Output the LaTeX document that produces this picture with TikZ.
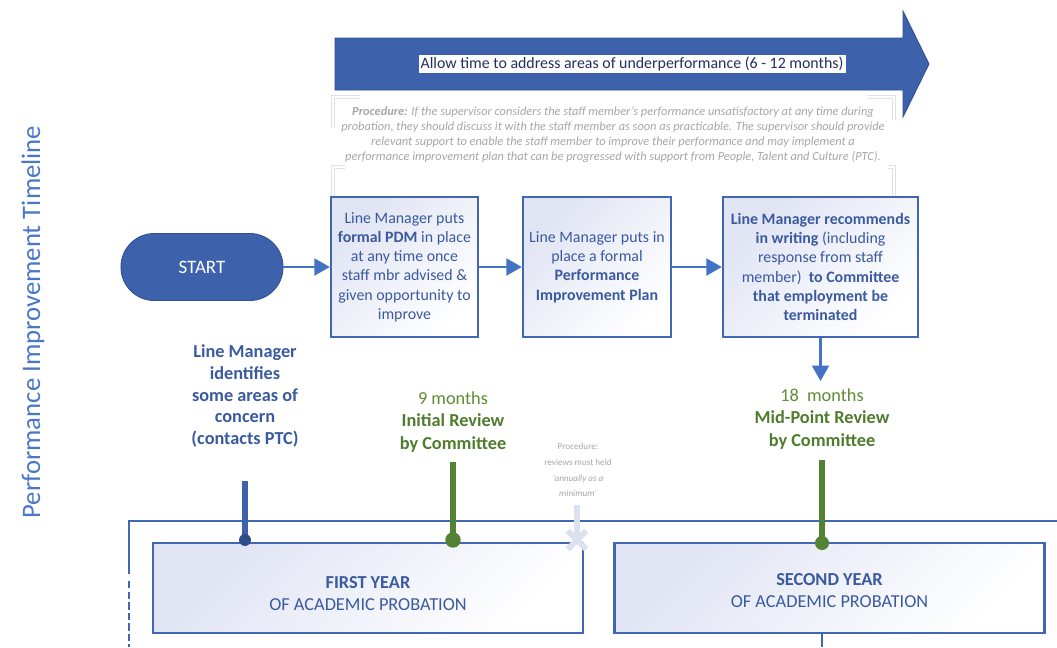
\documentclass[tikz,border=0pt]{standalone}
\usepackage{fontspec}
\setmainfont{Carlito}
\usepackage{tikz}
\usetikzlibrary{positioning, arrows.meta, calc, shapes.misc}
\definecolor{PIP_Navy}{HTML}{3E61AB}
\definecolor{PIP_NavyEdge}{HTML}{2F4F8F}
\definecolor{PIP_Edge}{HTML}{4166B4}
\definecolor{PIP_Link}{HTML}{4472C4}
\definecolor{PIP_Text}{HTML}{3A5AA0}
\definecolor{PIP_Ink}{HTML}{22305E}
\definecolor{PIP_Tint}{HTML}{E0E4F3}
\definecolor{PIP_Green}{HTML}{4F7C2C}
\definecolor{PIP_GreenLt}{HTML}{5E8C32}
\definecolor{PIP_Stem}{HTML}{548235}
\definecolor{PIP_Dot}{HTML}{2F4D8A}
\definecolor{PIP_Grey}{HTML}{A6A6A6}
\definecolor{PIP_Faint}{HTML}{DCE1F0}
\definecolor{PIP_Title}{HTML}{4A77C6}

\begin{document}
\begin{tikzpicture}[x=0.025cm, y=-0.025cm,
  every node/.style={font=\fontsize{11.3}{13.7}\selectfont, align=center},
  stepbox/.style={draw=PIP_Edge, line width=1.6pt, top color=PIP_Tint, bottom color=white,
    shading angle=45, text=PIP_Text, inner sep=0pt, minimum height=3.5cm},
  yearbox/.style={stepbox, minimum height=2.25cm, minimum width=10.75cm},
  flow/.style={-{Triangle[length=11pt, width=12pt]}, line width=1.8pt, PIP_Link},
  bluestem/.style={line width=4.2pt, PIP_Navy},
  greenstem/.style={line width=4.6pt, PIP_Stem},
  pindot/.style={circle, inner sep=0pt, minimum size=#1},
  faint/.style={PIP_Faint, double=white, double distance=1.2pt, line width=0.9pt}]
  \useasboundingbox (0,0) rectangle (1057,647);

  % Side title
  \node[rotate=90, text=PIP_Title, font=\fontsize{19}{21}\selectfont] (title) at (33,322)
    {Performance Improvement Timeline};

  % Big arrow across the top
  \fill[PIP_Navy, draw=PIP_NavyEdge, line width=0.6pt]
    (335,38) -- (903,38) -- (903,11) -- (929,64) -- (903,117) -- (903,90) -- (335,90) -- cycle;
  \node[fill=white, text=PIP_Ink, inner sep=1.5pt, font=\fontsize{11.3}{13}\selectfont] (span) at (632,64)
    {Allow time to address areas of underperformance (6 - 12 months)};

  % Procedure note with faint brackets
  \draw[faint] (360,97) -- (333,97) -- (333,128);
  \draw[faint] (345,167) -- (333,167) -- (333,196);
  \draw[faint] (867,97) -- (894,97) -- (894,120);
  \draw[faint] (888,167) -- (894,167) -- (894,196);
  \node[text=PIP_Grey, font=\fontsize{8.8}{10.6}\selectfont\itshape] (proc) at (613,134.5)
    {\textbf{Procedure:} If the supervisor considers the staff member’s performance unsatisfactory at any time during\\
     probation, they should discuss it with the staff member as soon as practicable. The supervisor should provide\\
     relevant support to enable the staff member to improve their performance and may implement a\\
     performance improvement plan that can be progressed with support from People, Talent and Culture (PTC).};

  % Process steps
  \node[fill=PIP_Navy, draw=PIP_NavyEdge, line width=0.6pt, rounded corners=0.83cm,
        minimum width=4.05cm, minimum height=1.675cm, text=white,
        font=\fontsize{13.5}{15}\selectfont] (start) at (202,267) {START};
  \node[stepbox, minimum width=3.675cm] (pdm) at (404.5,267)
    {Line Manager puts\\ \textbf{formal PDM} in place\\ at any time once\\ staff mbr advised \&\\ given opportunity to\\ improve};
  \node[stepbox, minimum width=3.7cm] (plan) at (597,267)
    {Line Manager puts in\\ place a formal\\ \textbf{Performance}\\ \textbf{Improvement Plan}};
  \node[stepbox, minimum width=4.875cm] (recommend) at (820.5,267)
    {\textbf{Line Manager recommends}\\ \textbf{in writing} (including\\ response from staff\\ member)\ \ \textbf{to Committee}\\ \textbf{that employment be}\\ \textbf{terminated}};
  \foreach \a/\b in {start/pdm, pdm/plan, plan/recommend}
    \draw[flow] (\a) -- (\b);
  \coordinate (midTip) at (820.5,381);
  \draw[flow] (recommend.south) -- (midTip);

  % Milestone labels
  \node[text=PIP_Text, font=\fontsize{13}{15.4}\selectfont\bfseries] (concern) at (245,396)
    {Line Manager\\ identifies\\ some areas of\\ concern\\ (contacts PTC)};
  \node[text=PIP_Green, font=\fontsize{13}{16.2}\selectfont] (initial) at (453,422)
    {\textcolor{PIP_GreenLt}{9 months}\\ \textbf{Initial Review}\\ \textbf{by Committee}};
  \node[text=PIP_Green, font=\fontsize{13}{16.2}\selectfont] (midpoint) at (822,419)
    {\textcolor{PIP_GreenLt}{18\ \ months}\\ \textbf{Mid-Point Review}\\ \textbf{by Committee}};
  \node[text=PIP_Grey, font=\fontsize{6.5}{11.2}\selectfont] (annual) at (578,470)
    {Procedure:\\ reviews must held\\ \textit{‘annually as a}\\ \textit{minimum’}};

  % Timeline frame
  \coordinate (frameR) at (1057,521);
  \coordinate (frameL) at (129,521);
  \coordinate (frameM) at (129,574);
  \coordinate (frameD) at (129,581);
  \coordinate (frameB) at (129,647);
  \draw[PIP_Edge, line width=1.5pt] (frameR) -- (frameL) -- (frameM);
  \draw[PIP_Edge, line width=1.5pt, dash pattern=on 5.3pt off 2.2pt] (frameD) -- (frameB);

  % Probation years
  \node[yearbox] (year1) at (368,588) {};
  \node[text=PIP_Text, font=\fontsize{13}{15.6}\selectfont] (year1txt) at (368,594)
    {\textbf{FIRST YEAR}\\ OF ACADEMIC PROBATION};
  \node[yearbox] (year2) at (829.5,588) {};
  \node[text=PIP_Text, font=\fontsize{13}{15.6}\selectfont] (year2txt) at (829.5,591)
    {\textbf{SECOND YEAR}\\ OF ACADEMIC PROBATION};
  \coordinate (year2Out) at (822,647);
  \draw[PIP_Edge, line width=1.5pt] (year2.south -| year2Out) -- (year2Out);

  % Stems down to the timeline
  \coordinate (concernStem) at (245,481);
  \draw[bluestem] (concernStem) -- (245,540) node[pindot=8.5pt, fill=PIP_Dot] (concernDot) {};
  \coordinate (initialStem) at (453,462);
  \draw[greenstem] (initialStem) -- (453,540) node[pindot=11pt, fill=PIP_Stem] (initialDot) {};
  \coordinate (midStem) at (822,460);
  \draw[greenstem] (midStem) -- (822,543) node[pindot=10pt, fill=PIP_Stem] (midDot) {};
  \coordinate (annualStem) at (577,505);
  \draw[line width=4.2pt, PIP_Faint] (annualStem) -- (577,540)
    node[cross out, draw=PIP_Faint, line width=4.2pt, minimum size=9pt, inner sep=0pt] (annualMark) {};
\end{tikzpicture}
\end{document}
